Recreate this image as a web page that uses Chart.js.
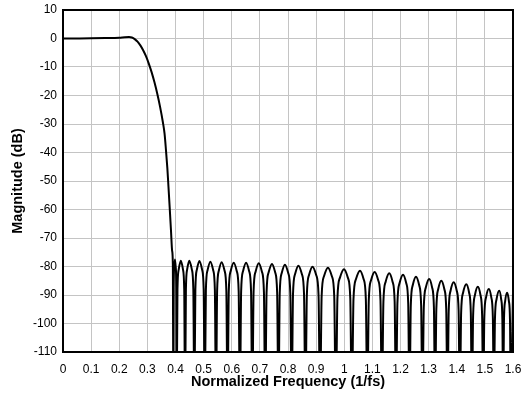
<!DOCTYPE html>
<html>
<head>
<meta charset="utf-8">
<script src="https://cdn.jsdelivr.net/npm/chart.js@4/dist/chart.umd.min.js"></script>
<style>
  html, body { margin: 0; padding: 0; background: #fff; }
  #contenedor { width: 523px; height: 394px; }
</style>
</head>
<body>
<div id="contenedor"><canvas id="grafico-filtro"></canvas></div>
<script>
// Banda de paso y caída (frecuencia normalizada, dB)
const passFreq = [0, 0.05, 0.1, 0.15, 0.2, 0.22, 0.235, 0.245, 0.255, 0.265, 0.275, 0.285, 0.295, 0.305, 0.315,
                  0.325, 0.335, 0.345, 0.355, 0.361, 0.366, 0.371, 0.375, 0.380, 0.384, 0.388, 0.3905];
const passDb   = [0, 0, 0.05, 0.15, 0.3, 0.45, 0.5, 0.35, -0.2, -1.1, -2.4, -4.1, -6.2, -8.8, -11.8,
                  -15.3, -19.3, -23.9, -29.3, -33.3, -39, -45.5, -52, -60.5, -67.5, -74.5, -79];

// Banda de rechazo: ceros (nulos) y picos de cada lóbulo
const nullFreq = [0.3925, 0.404, 0.434, 0.467, 0.504, 0.544, 0.585, 0.629, 0.673, 0.719, 0.766, 0.813, 0.862, 0.914, 0.970,
                  1.027, 1.082, 1.134, 1.184, 1.232, 1.278, 1.323, 1.367, 1.411, 1.454, 1.494, 1.532, 1.565, 1.592];
const peakFreq = [0.398, 0.419, 0.449, 0.485, 0.524, 0.564, 0.607, 0.651, 0.696, 0.743, 0.789, 0.837, 0.887, 0.942,
                  0.999, 1.056, 1.108, 1.160, 1.209, 1.255, 1.302, 1.345, 1.389, 1.434, 1.475, 1.514, 1.551, 1.579];
const peakDb   = [-77.5, -78.0, -78.0, -78.1, -78.3, -78.5, -78.7, -78.7, -78.9, -79.1, -79.4, -79.7, -80.1, -80.4,
                  -81.0, -81.5, -81.9, -82.4, -82.9, -83.6, -84.4, -85.0, -85.5, -86.2, -87.1, -87.9, -88.5, -89.2];
// Forma del lóbulo: [fracción entre nulo y pico, dB bajo el pico]
const lobeShape = [[0.2, -10], [0.5, -3]];
const nullDb = -130;           // los nulos caen por debajo del eje (-110)
const endFreq = 1.6, endDb = -89;

// Marcas de los ejes
const xTicks = [0, 0.1, 0.2, 0.3, 0.4, 0.5, 0.6, 0.7, 0.8, 0.9, 1, 1.1, 1.2, 1.3, 1.4, 1.5, 1.6];
const yTicks = [10, 0, -10, -20, -30, -40, -50, -60, -70, -80, -90, -100, -110];

// Arma la lista de puntos de la curva
const puntos = passFreq.map((f, i) => ({ x: f, y: passDb[i] }));
for (let i = 0; i < peakFreq.length; i++) {
  const a = nullFreq[i], p = peakFreq[i], b = nullFreq[i + 1], pk = peakDb[i];
  puntos.push({ x: a, y: nullDb });
  lobeShape.forEach(([u, d]) => puntos.push({ x: a + u * (p - a), y: pk + d }));
  puntos.push({ x: p, y: pk });
  lobeShape.slice().reverse().forEach(([u, d]) => puntos.push({ x: b - u * (b - p), y: pk + d }));
}
puntos.push({ x: nullFreq[nullFreq.length - 1], y: nullDb });
puntos.push({ x: endFreq, y: endDb });

// Marco negro alrededor del área del gráfico
const marco = {
  id: 'marco',
  afterDatasetsDraw(chart) {
    const { ctx, chartArea: a } = chart;
    ctx.save();
    ctx.strokeStyle = '#000';
    ctx.lineWidth = 2;
    ctx.strokeRect(a.left, a.top, a.right - a.left, a.bottom - a.top);
    ctx.restore();
  }
};

// Quita el margen extra que Chart.js reserva para las etiquetas de los extremos
const sinMargen = s => { s.paddingLeft = 0; s.paddingRight = 0; s.paddingTop = 0; s.paddingBottom = 0; };

const fuente = "'Liberation Sans', Arial, sans-serif";

new Chart(document.getElementById('grafico-filtro'), {
  type: 'line',
  data: {
    datasets: [{
      data: puntos,
      borderColor: '#000',
      borderWidth: 2,
      pointRadius: 0,
      cubicInterpolationMode: 'monotone',
      clip: 0
    }]
  },
  options: {
    responsive: true,
    maintainAspectRatio: false,
    animation: false,
    layout: { padding: { top: 10, right: 10, bottom: 0, left: 0 } },
    plugins: { legend: { display: false }, tooltip: { enabled: false } },
    scales: {
      x: {
        type: 'linear',
        min: 0, max: 1.6,
        afterBuildTicks: s => { s.ticks = xTicks.map(v => ({ value: v })); },
        afterFit: s => { s.height = 42; sinMargen(s); },
        grid: { color: '#c4c4c4', lineWidth: 1, drawTicks: false },
        border: { display: false },
        ticks: { color: '#000', font: { family: fuente, size: 12 }, padding: 10, maxRotation: 0, autoSkip: false,
                 callback: v => String(v) },
        title: { display: true, text: 'Normalized Frequency (1/fs)', color: '#000',
                 font: { family: fuente, size: 14.5, weight: 'bold' }, padding: { top: 0, bottom: 3 } }
      },
      y: {
        min: -110, max: 10,
        afterBuildTicks: s => { s.ticks = yTicks.slice().reverse().map(v => ({ value: v })); },
        afterFit: s => { s.width = 63; sinMargen(s); },
        grid: { color: '#c4c4c4', lineWidth: 1, drawTicks: false },
        border: { display: false },
        ticks: { color: '#000', font: { family: fuente, size: 12 }, padding: 6, autoSkip: false,
                 callback: v => String(v) },
        title: { display: true, text: 'Magnitude (dB)', color: '#000',
                 font: { family: fuente, size: 14.5, weight: 'bold' }, padding: { top: 9, bottom: 0 } }
      }
    }
  },
  plugins: [marco]
});
</script>
</body>
</html>
